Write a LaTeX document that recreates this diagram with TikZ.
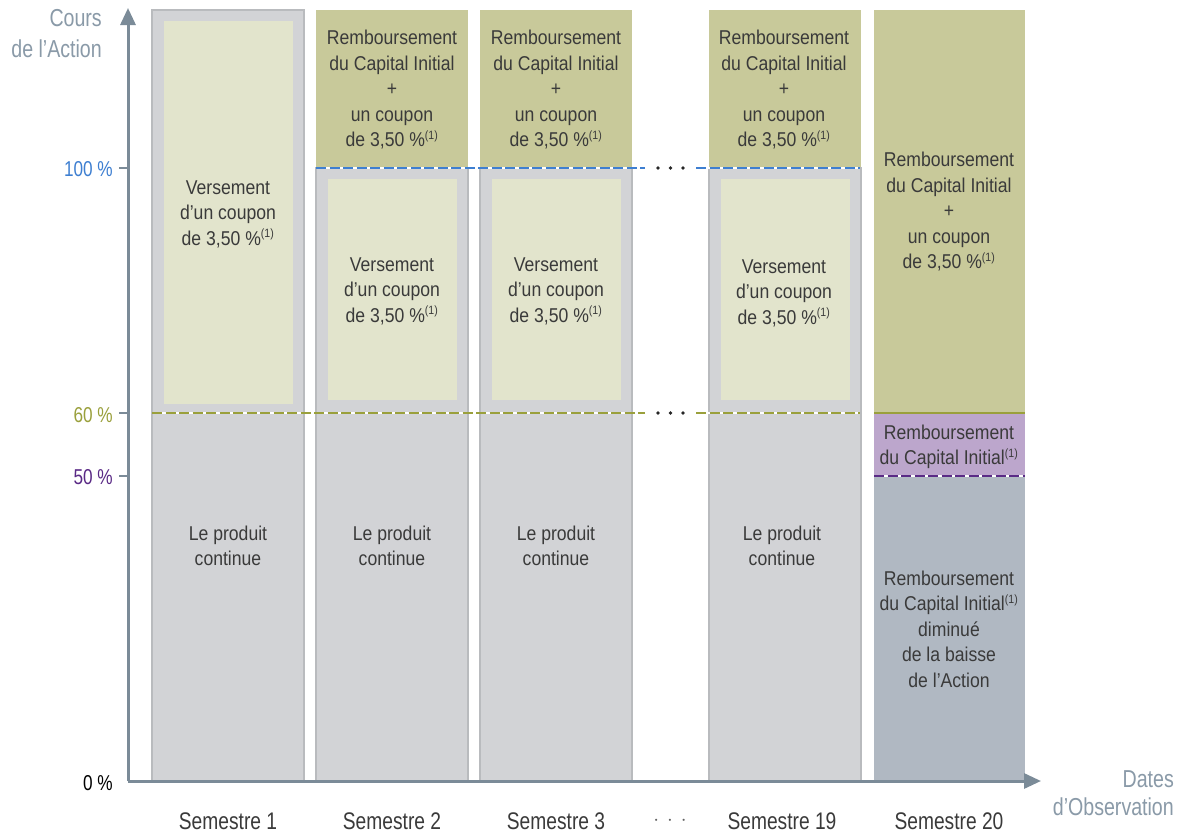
\documentclass[tikz,border=0pt]{standalone}
\usepackage{fontspec}
\setmainfont{Liberation Sans}[FakeStretch=0.88]
\newfontfamily\tickfont{Liberation Sans}[FakeStretch=0.8]
\usetikzlibrary{arrows.meta}
\definecolor{axisc}{HTML}{7B8B98}
\definecolor{greyc}{HTML}{D2D3D6}
\definecolor{greyb}{HTML}{B9BBBE}
\definecolor{lightc}{HTML}{E2E4CC}
\definecolor{olivec}{HTML}{C8C99A}
\definecolor{oliveline}{HTML}{9AA03C}
\definecolor{bluec}{HTML}{3E7FD1}
\definecolor{purplec}{HTML}{BCA6CC}
\definecolor{purpleline}{HTML}{5A2A86}
\definecolor{darkgc}{HTML}{B0B8C2}
\definecolor{txt}{HTML}{3A3A3A}
\definecolor{axtxt}{HTML}{8A9AA8}
\newcommand{\supone}{\textsuperscript{\fontsize{12}{12}\selectfont(1)}}
\tikzset{
  lbl/.style={font=\fontsize{20}{25.5}\selectfont, text=txt, align=center, inner sep=0pt},
  semlbl/.style={font=\tickfont\fontsize{24}{25}\selectfont, text=txt, inner sep=0pt, anchor=base},
  axlbl/.style={font=\tickfont\fontsize{24.5}{28}\selectfont, text=axtxt, inner sep=0pt, anchor=base east},
  ticklbl/.style={font=\tickfont\fontsize{21.5}{22}\selectfont, inner sep=0pt, anchor=base east},
  axisline/.style={draw=axisc, line width=3pt, -{Triangle[width=15pt,length=17pt]}},
  tickline/.style={draw=axisc, line width=2.5pt},
  colbox/.style={fill=greyc, draw=greyb, line width=1.3pt},
  whiteline/.style={draw=white, line width=2.5pt},
  dashblue/.style={draw=bluec, line width=2.5pt, dash pattern=on 10pt off 3.5pt},
  dasholive/.style={draw=oliveline, line width=2.5pt, dash pattern=on 10pt off 3.5pt},
  dashpurple/.style={draw=purpleline, line width=2.5pt, dash pattern=on 10pt off 3.5pt},
  dotc/.style={fill=black!85},
}
\begin{document}
\begin{tikzpicture}[x=1pt,y=-1pt]
\useasboundingbox (0,0) rectangle (1178,835);
\fill[white] (0,0) rectangle (1178,835);

% column 1
\draw[colbox] (152,10) rectangle (304,781);
\fill[lightc] (164,21) rectangle (293,404);

% columns 2, 3, 19
\foreach \l/\n in {316/2, 480/3, 709/19}{
  \fill[olivec] (\l,10) rectangle (\l+152,168);
  \draw[colbox] (\l,168) rectangle (\l+152,781);
  \fill[lightc] (\l+12,179) rectangle (\l+141,400);
}

% column 20
\fill[olivec] (874,10) rectangle (1025,413);
\fill[purplec] (874,413) rectangle (1025,476);
\fill[darkgc] (874,476) rectangle (1025,781);
\draw[draw=oliveline, line width=2.5pt] (874,413) -- (1025,413);
\draw[whiteline] (874,476) -- (1025,476);
\draw[dashpurple] (874,476) -- (1025,476);

% threshold lines
\draw[whiteline] (316,168) -- (645,168);
\draw[dashblue] (316,168) -- (645,168);
\draw[whiteline] (696,168) -- (860,168);
\draw[dashblue] (696,168) -- (860,168);
\draw[whiteline] (152,413) -- (645,413);
\draw[dasholive] (152,413) -- (645,413);
\draw[whiteline] (696,413) -- (860,413);
\draw[dasholive] (696,413) -- (860,413);
\foreach \x in {658,670.5,683}{
  \fill[dotc] (\x,168) circle (1.8);
  \fill[dotc] (\x,413) circle (1.8);
}

% axes
\coordinate (O) at (128,781);
\coordinate (ytop) at (128,8);
\coordinate (xend) at (1041,781);
\draw[axisline] (O) -- (ytop);
\draw[axisline] (O) -- (xend);
\foreach \y in {168,413,476}{
  \draw[tickline] (119,\y) -- (128,\y);
}
\node[ticklbl, text=bluec] (t100) at (113,176) {100 \%};
\node[ticklbl, text=oliveline] (t60) at (113,422) {60 \%};
\node[ticklbl, text=purpleline] (t50) at (113,484) {50 \%};
\node[ticklbl, text=black] (t0) at (113,790) {0 \%};
\node[axlbl] (yl1) at (102,27) {Cours};
\node[axlbl] (yl2) at (102,57) {de l’Action};
\node[axlbl] (xl1) at (1174,787) {Dates};
\node[axlbl] (xl2) at (1174,815) {d’Observation};

% texts
\node[lbl] (v1) at (228,214) {Versement\\d’un coupon\\de 3,50 \%\supone};
\foreach \c/\n in {392/2, 556/3}{
  \node[lbl] (top\n) at (\c,90) {Remboursement\\du Capital Initial\\+\\un coupon\\de 3,50 \%\supone};
  \node[lbl] (v\n) at (\c,291) {Versement\\d’un coupon\\de 3,50 \%\supone};
}
\node[lbl] (top19) at (784,90) {Remboursement\\du Capital Initial\\+\\un coupon\\de 3,50 \%\supone};
\node[lbl] (v19) at (784,293) {Versement\\d’un coupon\\de 3,50 \%\supone};
\foreach \c/\n in {228/1, 392/2, 556/3, 782/19}{
  \node[lbl] (lp\n) at (\c,546) {Le produit\\continue};
}
\node[lbl] (top20) at (949,212) {Remboursement\\du Capital Initial\\+\\un coupon\\de 3,50 \%\supone};
\node[lbl] (mid20) at (949,447) {Remboursement\\du Capital Initial\supone};
\node[lbl] (bot20) at (949,629) {Remboursement\\du Capital Initial\supone\\diminué\\de la baisse\\de l’Action};

% bottom labels
\foreach \c/\n in {228/1, 392/2, 556/3, 782/19, 949/20}{
  \node[semlbl] (s\n) at (\c,829) {Semestre \n};
}
\node[lbl, text=txt!80] (sdots) at (670,821) {$\cdot\,\cdot\,\cdot$};
\end{tikzpicture}
\end{document}
